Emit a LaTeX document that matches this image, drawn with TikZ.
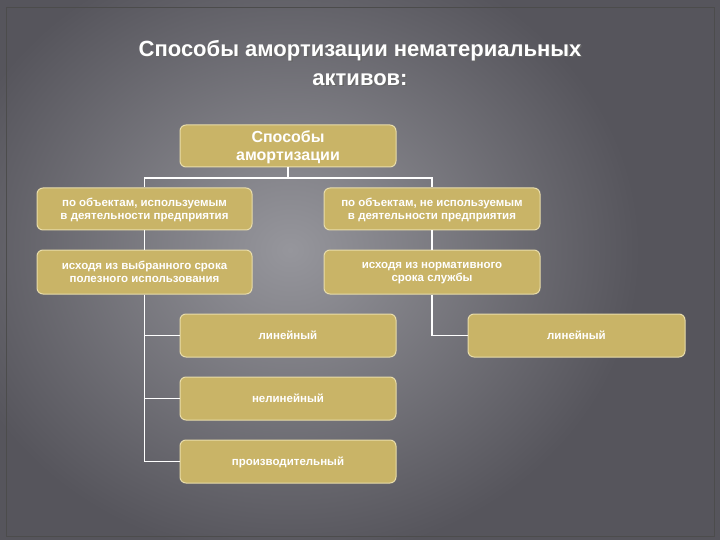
\documentclass[tikz,border=0pt]{standalone}
\usepackage{fontspec}
\setmainfont{Liberation Sans}
\definecolor{bg}{RGB}{86,85,92}
\definecolor{bgl}{RGB}{150,150,156}
\definecolor{tan}{RGB}{201,180,103}
\definecolor{tanb}{RGB}{232,220,170}
\begin{document}
\begin{tikzpicture}[x=1pt,y=-1pt,
  box/.style={draw=tanb,line width=1pt,fill=tan,rounded corners=6pt,text=white,font=\bfseries\fontsize{11.5}{13}\selectfont,align=center,inner sep=0pt,text depth=0pt},
  conn/.style={draw=white,line width=1.6pt}]
\useasboundingbox (0,0) rectangle (720,540);
\fill[bg] (0,0) rectangle (720,540);
\shade[inner color=bgl,outer color=bg] (-60,-60) rectangle (640,560);
\draw[black!70,line width=1pt] (6,8) rectangle (714,536);
\node[text=black!60,font=\bfseries\fontsize{22}{29}\selectfont,align=center] at (361.5,64.5) {Способы амортизации нематериальных\\активов:};
\node[text=white,font=\bfseries\fontsize{22}{29}\selectfont,align=center] (title) at (360,63) {Способы амортизации нематериальных\\активов:};
\node[box,minimum width=216,minimum height=42,font=\bfseries\fontsize{16}{18}\selectfont] (top) at (288,146) {Способы\\амортизации};
\node[box,minimum width=215,minimum height=42] (l1) at (144.5,209) {по объектам, используемым\\в деятельности предприятия};
\node[box,minimum width=216,minimum height=42] (r1) at (432,209) {по объектам, не используемым\\в деятельности предприятия};
\node[box,minimum width=215,minimum height=44] (l2) at (144.5,272) {исходя из выбранного срока\\полезного использования};
\node[box,minimum width=216,minimum height=44] (r2) at (432,272) {исходя из нормативного\\срока службы};
\node[box,minimum width=216,minimum height=43] (lin) at (288,335.5) {линейный};
\node[box,minimum width=216,minimum height=43] (nlin) at (288,398.5) {нелинейный};
\node[box,minimum width=216,minimum height=43] (prod) at (288,461.5) {производительный};
\node[box,minimum width=217,minimum height=43] (lin2) at (576.5,335.5) {линейный};
\coordinate (hub) at (288,178);
\draw[conn] (top.south) -- (hub);
\draw[conn] (hub) -| (l1.north);
\draw[conn] (hub) -| (r1.north);
\draw[conn] (l1.south) -- (l2.north);
\draw[conn] (r1.south) -- (r2.north);
\draw[conn] (l2.south) |- (lin.west);
\draw[conn] (l2.south) |- (nlin.west);
\draw[conn] (l2.south) |- (prod.west);
\draw[conn] (r2.south) |- (lin2.west);
\end{tikzpicture}
\end{document}
